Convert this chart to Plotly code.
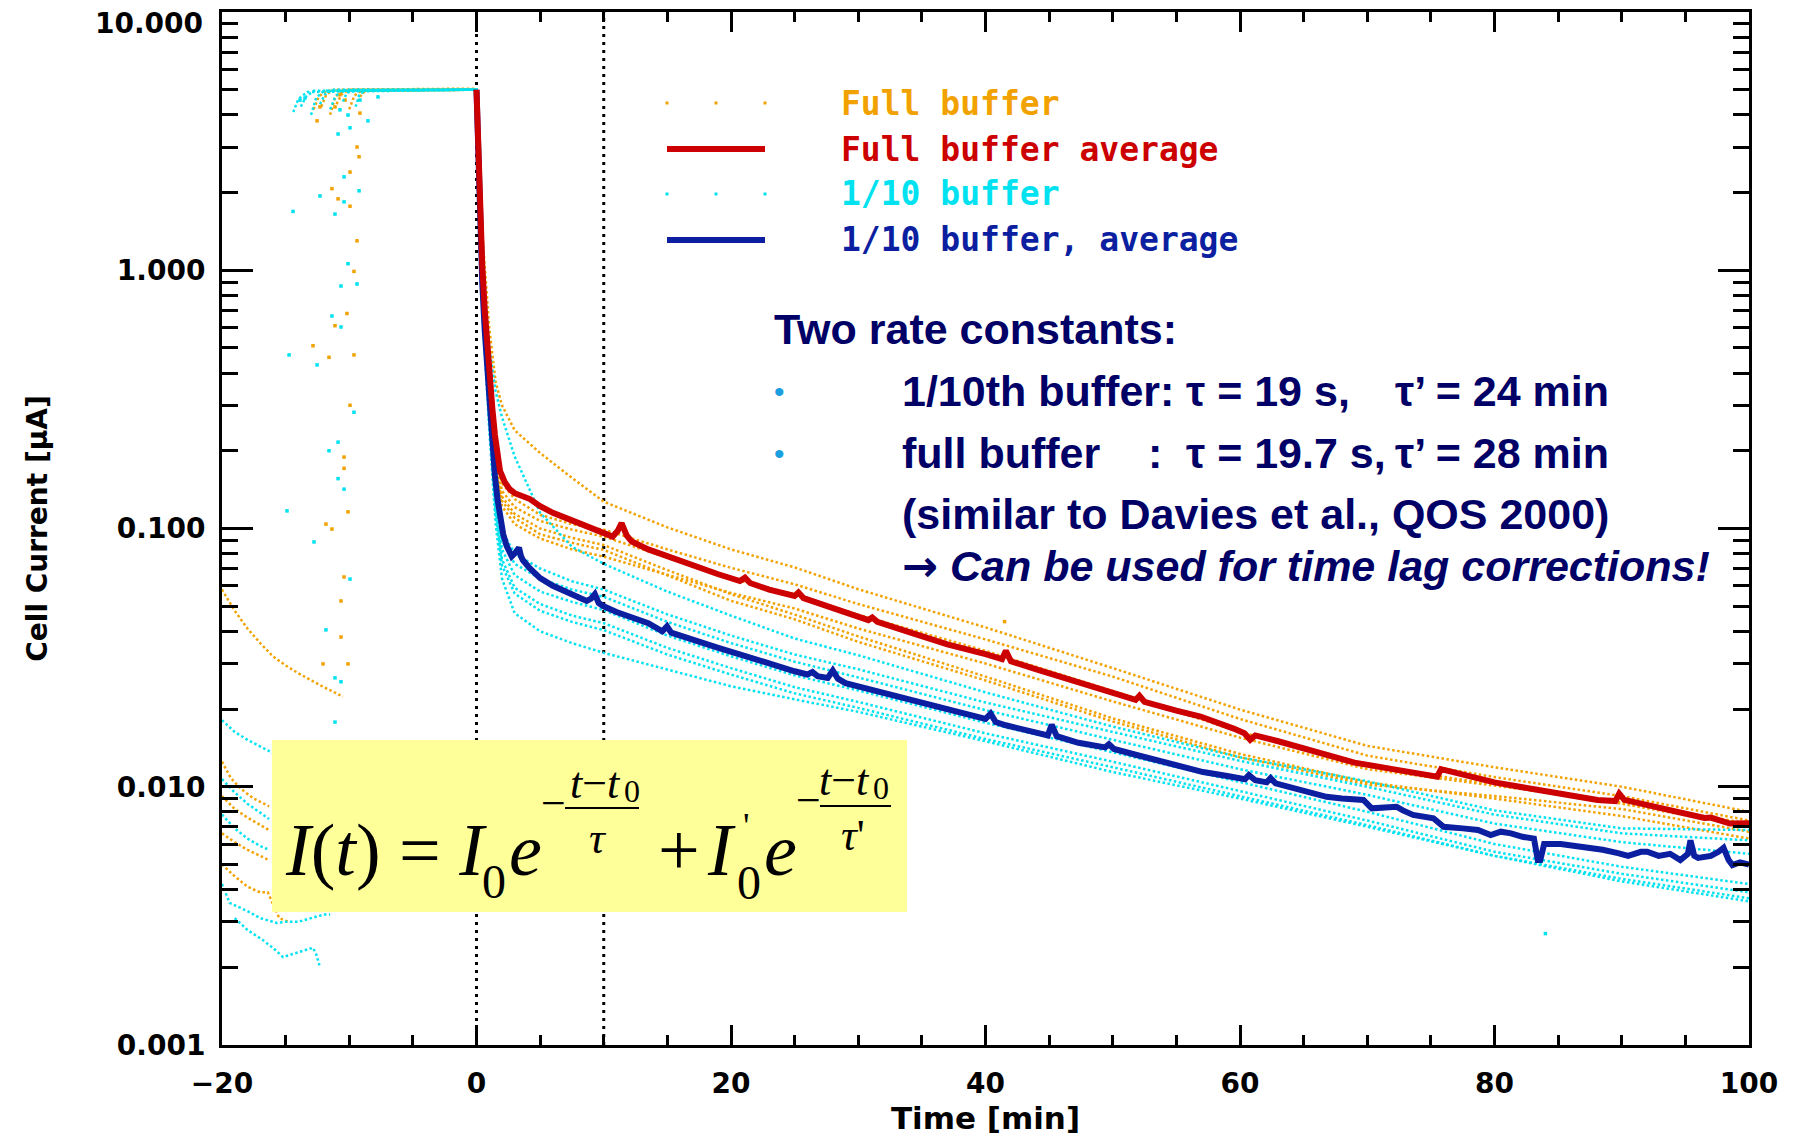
import plotly.graph_objects as go

# ---------------------------------------------------------------- data
# common time grid (min) for the individual runs after t0
T_POST = [0, 0.2, 0.5, 1.0, 1.5, 2.0, 3.0, 5.0, 7.5, 10, 15, 20, 25, 30, 40, 50, 60, 70, 80, 90, 100]

# Full buffer, individual runs (cell current, uA)
full_run_1 = [5.0, 2.6, 1.3, 0.60, 0.37, 0.30, 0.24, 0.196, 0.157, 0.127, 0.101, 0.083, 0.0707, 0.0582, 0.0414, 0.0288, 0.0199, 0.0144, 0.0119, 0.0100, 0.0080]
full_run_2 = [5.0, 2.3, 0.95, 0.37, 0.20, 0.150, 0.130, 0.113, 0.104, 0.099, 0.083, 0.0704, 0.0608, 0.0510, 0.0372, 0.0267, 0.0183, 0.0132, 0.0109, 0.0092, 0.0074]
full_run_3 = [5.0, 2.2, 0.90, 0.35, 0.185, 0.140, 0.121, 0.107, 0.099, 0.093, 0.077, 0.064, 0.0555, 0.0464, 0.0336, 0.0235, 0.0163, 0.0121, 0.0102, 0.0086, 0.0070]
full_run_4 = [5.0, 2.1, 0.85, 0.33, 0.175, 0.133, 0.114, 0.100, 0.092, 0.0863, 0.069, 0.0557, 0.0464, 0.0382, 0.0267, 0.0184, 0.0134, 0.0104, 0.0090, 0.0077, 0.0063]
full_run_5 = [5.0, 2.05, 0.82, 0.32, 0.170, 0.128, 0.110, 0.095, 0.088, 0.0826, 0.066, 0.0525, 0.0445, 0.0364, 0.0258, 0.0179, 0.0130, 0.0102, 0.0092, 0.0082, 0.0067]
full_run_6 = [5.0, 2.0, 0.80, 0.31, 0.165, 0.122, 0.104, 0.0915, 0.083, 0.0778, 0.066, 0.0563, 0.0490, 0.0410, 0.0300, 0.0214, 0.0155, 0.0117, 0.0101, 0.0087, 0.0072]

# Full buffer, plateau before t0
full_pre_1_t = [-12.8, -12.4, -11.8, -0.1]; full_pre_1_i = [4.2, 4.7, 4.95, 5.0]
full_pre_2_t = [-12.2, -11.8, -11.2, -0.1]; full_pre_2_i = [4.3, 4.8, 5.0, 5.05]
full_pre_3_t = [-11.5, -11.1, -10.5, -0.1]; full_pre_3_i = [4.0, 4.7, 4.95, 4.98]
full_pre_4_t = [-11.0, -10.6, -10.0, -0.1]; full_pre_4_i = [4.4, 4.8, 5.0, 5.03]
full_pre_5_t = [-10.0, -9.6, -9.0, -0.1]; full_pre_5_i = [4.2, 4.75, 4.97, 5.0]
full_pre_6_t = [-9.3, -9.0, -8.5, -0.1]; full_pre_6_i = [4.5, 4.85, 5.0, 5.02]

# Full buffer, tails of the previous cycle (left edge)
full_tail_1_t = [-20, -19, -18, -17, -16, -15, -14, -13, -12, -11, -10.5]
full_tail_1_i = [0.058, 0.048, 0.041, 0.036, 0.032, 0.0295, 0.0275, 0.0258, 0.0243, 0.0230, 0.0223]
full_tail_2_t = [-20, -19.3, -18.5, -17.5, -16.3]
full_tail_2_i = [0.0125, 0.0108, 0.0098, 0.0090, 0.0084]
full_tail_3_t = [-20, -19, -18, -17, -16.3]
full_tail_3_i = [0.0092, 0.0082, 0.0076, 0.0071, 0.0068]
full_tail_4_t = [-20, -19, -18, -17, -16.3]
full_tail_4_i = [0.0066, 0.0061, 0.0057, 0.0054, 0.0052]
full_tail_5_t = [-20, -19, -18, -17, -16.4, -16.1, -15.5, -14.8]
full_tail_5_i = [0.0050, 0.0045, 0.0041, 0.0039, 0.0039, 0.0036, 0.0031, 0.0030]

# Full buffer, isolated samples (switch-on transients, outliers)
full_pts_t = [-12.30, -12.53, -11.12, -9.39, -9.23, -9.94, -11.36, -10.88, -9.94, -9.39,
              -9.63, -10.18, -11.12, -12.85, -11.59, -9.63, -9.94, -10.41, -10.41, -10.10,
              -11.83, -11.36, -10.41, -10.65, -10.65, -12.06, -10.10, -10.73, -10.33, -9.16, 41.5]
full_pts_i = [4.29, 3.79, 4.29, 3.0, 2.75, 2.40, 2.07, 1.89, 1.77, 1.30,
              0.99, 0.68, 0.61, 0.51, 0.46, 0.47, 0.30, 0.189, 0.171, 0.116,
              0.104, 0.0995, 0.0649, 0.0524, 0.038, 0.0299, 0.0299, 4.78, 4.56, 4.06, 0.0436]

# 1/10 buffer, individual runs
tenth_run_1 = [5.0, 2.4, 1.1, 0.50, 0.34, 0.27, 0.19, 0.115, 0.085, 0.073, 0.057, 0.046, 0.0375, 0.0323, 0.0232, 0.0171, 0.0130, 0.0105, 0.0081, 0.0069, 0.0068]
tenth_run_2 = [5.0, 2.1, 0.85, 0.32, 0.15, 0.098, 0.080, 0.070, 0.0625, 0.058, 0.0465, 0.0385, 0.0325, 0.0285, 0.0212, 0.0163, 0.0126, 0.0100, 0.0078, 0.0066, 0.0062]
tenth_run_3 = [5.0, 2.0, 0.80, 0.30, 0.14, 0.090, 0.073, 0.064, 0.058, 0.0544, 0.0435, 0.0360, 0.0305, 0.0265, 0.0198, 0.0152, 0.0117, 0.0093, 0.0072, 0.0061, 0.0055]
tenth_run_4 = [5.0, 1.95, 0.76, 0.28, 0.13, 0.083, 0.066, 0.057, 0.052, 0.0483, 0.0385, 0.0320, 0.0270, 0.0236, 0.0177, 0.0136, 0.0104, 0.0080, 0.0060, 0.0049, 0.0042]
tenth_run_5 = [5.0, 1.9, 0.72, 0.27, 0.12, 0.076, 0.059, 0.051, 0.046, 0.0430, 0.0345, 0.0288, 0.0243, 0.0213, 0.0161, 0.0125, 0.0096, 0.0074, 0.0056, 0.0046, 0.0039]
tenth_run_6 = [5.0, 1.85, 0.70, 0.26, 0.115, 0.072, 0.056, 0.048, 0.0435, 0.0404, 0.0325, 0.0272, 0.0230, 0.0202, 0.0153, 0.0119, 0.0092, 0.0071, 0.0054, 0.0044, 0.0037]
tenth_run_7 = [5.0, 1.8, 0.66, 0.24, 0.105, 0.064, 0.047, 0.040, 0.036, 0.033, 0.0285, 0.0245, 0.0218, 0.0195, 0.0150, 0.0114, 0.0090, 0.0070, 0.0054, 0.0043, 0.0036]

tenth_pre_1_t = [-14.4, -14.0, -13.3, -0.1]; tenth_pre_1_i = [4.1, 4.6, 4.9, 5.0]
tenth_pre_2_t = [-13.8, -13.4, -12.8, -0.1]; tenth_pre_2_i = [4.3, 4.7, 4.95, 5.03]
tenth_pre_3_t = [-13.0, -12.6, -12.0, -0.1]; tenth_pre_3_i = [4.0, 4.65, 4.95, 4.98]
tenth_pre_4_t = [-12.3, -11.9, -11.3, -0.1]; tenth_pre_4_i = [4.4, 4.8, 5.0, 5.02]
tenth_pre_5_t = [-11.5, -11.1, -10.6, -0.1]; tenth_pre_5_i = [4.2, 4.7, 4.97, 5.0]
tenth_pre_6_t = [-10.5, -10.2, -9.7, -0.1]; tenth_pre_6_i = [4.5, 4.85, 5.0, 5.03]
tenth_pre_7_t = [-9.5, -9.2, -8.7, -0.1]; tenth_pre_7_i = [4.3, 4.8, 4.98, 5.0]

tenth_tail_1_t = [-20, -19, -18, -17, -16]
tenth_tail_1_i = [0.0181, 0.0163, 0.0152, 0.0143, 0.0135]
tenth_tail_2_t = [-20, -19, -18, -17, -16.3]
tenth_tail_2_i = [0.0107, 0.0095, 0.0086, 0.0079, 0.0075]
tenth_tail_3_t = [-20, -19, -18, -17, -16.3]
tenth_tail_3_i = [0.0078, 0.0069, 0.0063, 0.0059, 0.0057]
tenth_tail_4_t = [-20, -19.4, -18, -17, -16, -15.7, -15, -14, -13, -12, -11.5]
tenth_tail_4_i = [0.0042, 0.00355, 0.0033, 0.0031, 0.0030, 0.00297, 0.0030, 0.0030, 0.0031, 0.0032, 0.0032]
tenth_tail_5_t = [-19, -18, -16.8, -16, -15.2, -13.9, -12.85, -12.6, -12.3]
tenth_tail_5_i = [0.0031, 0.00279, 0.00255, 0.00238, 0.00219, 0.00229, 0.00238, 0.00225, 0.0020]

tenth_pts_t = [-14.42, -12.30, -10.41, -9.23, -11.12, -10.41, -10.88, -9.94, -8.53, -10.10,
               -9.39, -10.65, -11.36, -10.65, -14.73, -12.53, -9.63, -10.88, -11.59, -10.88,
               -10.41, -14.89, -12.77, -9.94, -11.83, -11.12, -10.65, -11.12, -13.87, -13.48,
               -10.73, -10.10, -9.16, -7.74, 84.0]
tenth_pts_i = [1.69, 1.94, 2.30, 2.03, 1.65, 1.84, 3.37, 3.56, 3.79, 1.06,
               0.885, 0.869, 0.665, 0.603, 0.470, 0.430, 0.282, 0.216, 0.200, 0.156,
               0.142, 0.117, 0.0887, 0.0637, 0.0405, 0.0264, 0.0255, 0.0178, 4.56, 4.64,
               4.18, 3.99, 4.56, 4.69, 0.0027]

# Averages
avg_full_t = [0, 0.1, 0.25, 0.45, 0.65, 0.85, 1.05, 1.25, 1.45, 1.65,
              1.85, 2.2, 2.6, 3.0, 3.5, 4.2, 5.0, 6.0, 7.6, 9.0,
              10.7, 11.1, 11.4, 11.8, 12.2, 13.5, 15.0, 17.0, 19.0, 20.7,
              21.1, 21.5, 23.0, 25.0, 25.3, 25.7, 27.5, 29.0, 30.8, 31.1,
              31.5, 34.0, 37.0, 40.0, 41.3, 41.6, 42.0, 44.0, 47.0, 50.0,
              51.8, 52.1, 52.5, 55.0, 56.9, 59.5, 60.35, 60.8, 61.2, 63.0,
              66.0, 69.0, 72.0, 75.5, 75.8, 77.0, 80.0, 83.0, 86.0, 88.1,
              89.5, 89.8, 90.2, 92.0, 94.0, 96.5, 97.0, 98.5, 100]
avg_full_i = [5.0, 3.3, 1.8, 1.05, 0.70, 0.49, 0.37, 0.29, 0.23, 0.19,
              0.167, 0.152, 0.142, 0.137, 0.134, 0.130, 0.122, 0.115, 0.107, 0.100,
              0.093, 0.098, 0.105, 0.094, 0.089, 0.083, 0.078, 0.072, 0.0665, 0.0626,
              0.0645, 0.0615, 0.058, 0.0548, 0.0565, 0.0538, 0.050, 0.047, 0.0442, 0.0452,
              0.0435, 0.0397, 0.0356, 0.0326, 0.0312, 0.0336, 0.0306, 0.0285, 0.0256, 0.0230,
              0.0217, 0.0225, 0.0213, 0.0197, 0.0187, 0.0168, 0.0161, 0.0152, 0.0158, 0.0150,
              0.0136, 0.0124, 0.0117, 0.01094, 0.0117, 0.0113, 0.0104, 0.0098, 0.0093, 0.00889,
              0.0088, 0.0094, 0.0089, 0.0085, 0.0081, 0.00757, 0.0076, 0.0072, 0.00723]

avg_tenth_t = [0, 0.1, 0.25, 0.45, 0.65, 0.85, 1.05, 1.25, 1.45, 1.65,
               1.85, 2.1, 2.37, 2.77, 3.05, 3.34, 3.5, 3.65, 4.2, 5.0,
               6.0, 7.6, 8.66, 9.0, 9.3, 9.6, 9.95, 11.0, 12.3, 13.5,
               14.6, 14.97, 15.3, 17.0, 19.0, 21.0, 23.2, 25.0, 26.0, 26.4,
               26.8, 27.6, 28.0, 28.4, 29.0, 31.0, 33.0, 35.0, 37.0, 39.0,
               40.0, 40.4, 40.8, 41.6, 43.0, 44.9, 45.2, 45.6, 47.3, 49.4,
               49.7, 50.1, 51.8, 52.9, 55.0, 57.1, 59.0, 60.4, 60.7, 61.2,
               62.1, 62.4, 62.8, 64.5, 66.8, 68.0, 69.7, 70.35, 71.2, 72.3,
               72.8, 73.6, 75.2, 76.0, 77.5, 78.7, 79.7, 80.5, 81.3, 82.2,
               83.1, 83.4, 83.6, 83.9, 85.2, 86.5, 87.1, 88.5, 89.7, 90.5,
               91.5, 92.0, 92.9, 93.8, 94.6, 95.2, 95.4, 95.7, 96.0, 97.0,
               97.6, 98.0, 98.4, 98.7, 99.3, 100]
avg_tenth_i = [5.0, 3.1, 1.6, 0.9, 0.58, 0.40, 0.28, 0.20, 0.160, 0.130,
               0.111, 0.095, 0.0857, 0.078, 0.0805, 0.0843, 0.078, 0.0753, 0.070, 0.0642,
               0.060, 0.055, 0.0524, 0.0535, 0.0557, 0.0515, 0.0501, 0.0475, 0.0448, 0.043,
               0.0400, 0.0418, 0.0395, 0.0370, 0.0345, 0.0322, 0.0296, 0.0280, 0.0272, 0.0278,
               0.0268, 0.0264, 0.0282, 0.0262, 0.0252, 0.0238, 0.0225, 0.0213, 0.0202, 0.0190,
               0.0183, 0.0192, 0.0178, 0.0173, 0.0166, 0.0158, 0.0174, 0.0157, 0.0148, 0.0142,
               0.0146, 0.0140, 0.0133, 0.0129, 0.0121, 0.0114, 0.0110, 0.0107, 0.0111, 0.0106,
               0.0104, 0.0108, 0.0103, 0.0098, 0.00914, 0.0090, 0.00889, 0.00825, 0.0083, 0.00837,
               0.0081, 0.00778, 0.00755, 0.0070, 0.0069, 0.0068, 0.0065, 0.0067, 0.0066, 0.0064,
               0.0063, 0.0052, 0.0052, 0.0060, 0.0060, 0.0059, 0.0058, 0.0057, 0.00553, 0.0054,
               0.0056, 0.0056, 0.0054, 0.0055, 0.0052, 0.0055, 0.0062, 0.0054, 0.0053, 0.0054,
               0.0056, 0.0058, 0.0052, 0.00497, 0.0051, 0.0050]

X_TICKS = [-20, 0, 20, 40, 60, 80, 100]
Y_TICKS = [0.001, 0.01, 0.1, 1, 10]
Y_TICKTEXT = ["0.001", "0.010", "0.100", "1.000", "10.000"]
MARKER_TIMES = [0, 10]

LEGEND_LABELS = ["Full buffer", "Full buffer average", "1/10 buffer", "1/10 buffer, average"]

# ---------------------------------------------------------------- style
ORANGE = "#F2A200"
CYAN = "#00E2F0"
RED = "#CC0000"
BLUE = "#0B1FA0"
NAVY = "#000066"
BULLET = "#1C9FE0"

W, H = 1794, 1139
ML, MR, MT, MB = 222, 45, 12, 94
PW = W - ML - MR
PH = H - MT - MB


def px(X):
    return (X - ML) / PW


def py(Y):
    return (H - MB - Y) / PH


def chain(pairs):
    xs, ys = [], []
    for tx, iy in pairs:
        if xs:
            xs.append(None)
            ys.append(None)
        xs += list(tx)
        ys += list(iy)
    return xs, ys


full_x, full_y = chain([
    (full_pre_1_t + T_POST, full_pre_1_i + full_run_1),
    (full_pre_2_t + T_POST, full_pre_2_i + full_run_2),
    (full_pre_3_t + T_POST, full_pre_3_i + full_run_3),
    (full_pre_4_t + T_POST, full_pre_4_i + full_run_4),
    (full_pre_5_t + T_POST, full_pre_5_i + full_run_5),
    (full_pre_6_t + T_POST, full_pre_6_i + full_run_6),
    (full_tail_1_t, full_tail_1_i), (full_tail_2_t, full_tail_2_i),
    (full_tail_3_t, full_tail_3_i), (full_tail_4_t, full_tail_4_i),
    (full_tail_5_t, full_tail_5_i),
])
tenth_x, tenth_y = chain([
    (tenth_pre_1_t + T_POST, tenth_pre_1_i + tenth_run_1),
    (tenth_pre_2_t + T_POST, tenth_pre_2_i + tenth_run_2),
    (tenth_pre_3_t + T_POST, tenth_pre_3_i + tenth_run_3),
    (tenth_pre_4_t + T_POST, tenth_pre_4_i + tenth_run_4),
    (tenth_pre_5_t + T_POST, tenth_pre_5_i + tenth_run_5),
    (tenth_pre_6_t + T_POST, tenth_pre_6_i + tenth_run_6),
    (tenth_pre_7_t + T_POST, tenth_pre_7_i + tenth_run_7),
    (tenth_tail_1_t, tenth_tail_1_i), (tenth_tail_2_t, tenth_tail_2_i),
    (tenth_tail_3_t, tenth_tail_3_i), (tenth_tail_4_t, tenth_tail_4_i),
    (tenth_tail_5_t, tenth_tail_5_i),
])

DOT = "2.5px,2.5px"

fig = go.Figure()
fig.add_trace(go.Scatter(x=full_x, y=full_y, mode="lines", name=LEGEND_LABELS[0],
                         line=dict(color=ORANGE, width=2.5, dash=DOT), connectgaps=False))
fig.add_trace(go.Scatter(x=full_pts_t, y=full_pts_i, mode="markers", name=LEGEND_LABELS[0],
                         marker=dict(color=ORANGE, size=3.5, symbol="square", line=dict(width=0))))
fig.add_trace(go.Scatter(x=tenth_x, y=tenth_y, mode="lines", name=LEGEND_LABELS[2],
                         line=dict(color=CYAN, width=2.5, dash=DOT), connectgaps=False))
fig.add_trace(go.Scatter(x=tenth_pts_t, y=tenth_pts_i, mode="markers", name=LEGEND_LABELS[2],
                         marker=dict(color=CYAN, size=3.5, symbol="square", line=dict(width=0))))
fig.add_trace(go.Scatter(x=avg_tenth_t, y=avg_tenth_i, mode="lines", name=LEGEND_LABELS[3],
                         line=dict(color=BLUE, width=6)))
fig.add_trace(go.Scatter(x=avg_full_t, y=avg_full_i, mode="lines", name=LEGEND_LABELS[1],
                         line=dict(color=RED, width=6)))

shapes = []
for tm in MARKER_TIMES:
    shapes.append(dict(type="line", xref="x", yref="paper", x0=tm, x1=tm, y0=0, y1=1,
                       line=dict(color="black", width=3, dash="3px,5px"), layer="below"))

# formula box
shapes.append(dict(type="rect", xref="paper", yref="paper", x0=px(272), x1=px(907),
                   y0=py(912), y1=py(740), fillcolor="#FFFF99", line=dict(width=0), layer="above"))
# fraction bars
shapes.append(dict(type="line", xref="paper", yref="paper", x0=px(565), x1=px(639),
                   y0=py(808), y1=py(808), line=dict(color="black", width=2), layer="above"))
shapes.append(dict(type="line", xref="paper", yref="paper", x0=px(820), x1=px(891),
                   y0=py(806), y1=py(806), line=dict(color="black", width=2), layer="above"))

# legend samples
LEG_ROWS = [103, 149, 194, 240]
for Xd in (667, 716, 765):
    for Yr, col in ((LEG_ROWS[0], ORANGE), (LEG_ROWS[2], CYAN)):
        shapes.append(dict(type="rect", xref="paper", yref="paper",
                           x0=px(Xd - 1.5), x1=px(Xd + 1.5), y0=py(Yr + 1.5), y1=py(Yr - 1.5),
                           fillcolor=col, line=dict(width=0), layer="above"))
shapes.append(dict(type="line", xref="paper", yref="paper", x0=px(667), x1=px(765),
                   y0=py(LEG_ROWS[1]), y1=py(LEG_ROWS[1]), line=dict(color=RED, width=6), layer="above"))
shapes.append(dict(type="line", xref="paper", yref="paper", x0=px(667), x1=px(765),
                   y0=py(LEG_ROWS[3]), y1=py(LEG_ROWS[3]), line=dict(color=BLUE, width=6), layer="above"))

ann = []
LEG_FONT = "DejaVu Sans Mono"
for lab, Yr, col in zip(LEGEND_LABELS, LEG_ROWS, (ORANGE, RED, CYAN, BLUE)):
    ann.append(dict(text=lab, x=px(839), y=py(Yr), xanchor="left", yanchor="middle",
                    font=dict(family=LEG_FONT, size=33, color=col, weight="bold")))

TXT = dict(family="Liberation Sans, Arial, sans-serif", size=43, color=NAVY, weight="bold")


def txt(s, X, Y, anchor="left", font=None):
    ann.append(dict(text=s, x=px(X), y=py(Y), xanchor=anchor, yanchor="middle",
                    font=font or TXT))


txt("Two rate constants:", 772, 329)
txt("•", 779, 391, "center", dict(family="Liberation Sans", size=30, color=BULLET))
txt("•", 779, 453, "center", dict(family="Liberation Sans", size=30, color=BULLET))
txt("1/10th buffer:", 900, 391)
txt("τ = 19 s,", 1184, 391)
txt("τ’ = 24 min", 1393, 391)
txt("full buffer", 900, 453)
txt(":", 1146, 453)
txt("τ = 19.7 s,", 1184, 453)
txt("τ’ = 28 min", 1393, 453)
txt("(similar to Davies et al., QOS 2000)", 900, 514)
txt("<span style='font-family:DejaVu Sans'>→</span> <i>Can be used for time lag corrections!</i>", 900, 566)

# y tick label at the top edge (kept inside the page as in the original)
txt("10.000", 205, 23, "right", dict(family="DejaVu Sans", size=28, color="black", weight="bold"))

# formula I(t) = I0 exp(-(t-t0)/tau) + I0' exp(-(t-t0)/tau')
SER = "Liberation Serif, Times New Roman, serif"
F74 = dict(family=SER, size=74, color="black")
F48 = dict(family=SER, size=48, color="black")
F44 = dict(family=SER, size=44, color="black")
F32 = dict(family=SER, size=32, color="black")
txt("<i>I</i>(<i>t</i>) = <i>I</i>", 283, 850, "left", F74)
txt("0", 494, 881, "center", F48)
txt("<i>e</i>", 507, 850, "left", F74)
txt("−", 553, 803, "center", F44)
txt("<i>t</i>−<i>t</i>", 623, 783, "right", F44)
txt("0", 632, 791, "center", F32)
txt("<i>τ</i>", 598, 838, "center", F44)
txt("+", 679, 850, "center", F74)
txt("<i>I</i>", 705, 850, "left", F74)
txt("'", 746, 826, "center", dict(family=SER, size=36, color="black"))
txt("0", 749, 882, "center", F48)
txt("<i>e</i>", 762, 850, "left", F74)
txt("−", 808, 800, "center", F44)
txt("<i>t</i>−<i>t</i>", 872, 780, "right", F44)
txt("0", 881, 788, "center", F32)
txt("<i>τ</i>'", 853, 835, "center", F44)

TICKFONT = dict(family="DejaVu Sans", size=28, color="black", weight="bold")
TITLEFONT = dict(family="DejaVu Sans", size=31, color="black", weight="bold")

minor_y = [k * 10.0 ** e for e in range(-3, 1) for k in range(2, 10)]

fig.update_layout(
    width=W, height=H, autosize=False,
    margin=dict(l=ML, r=MR, t=MT, b=MB, pad=0, autoexpand=False),
    paper_bgcolor="white", plot_bgcolor="white",
    showlegend=False,
    font=dict(family="DejaVu Sans", color="black"),
    xaxis=dict(range=[-20, 100], tickmode="array", tickvals=X_TICKS, automargin=False,
               ticks="inside", ticklen=20, tickwidth=3, tickcolor="black",
               showline=True, linewidth=3, linecolor="black", mirror="ticks",
               showgrid=False, zeroline=False, tickfont=TICKFONT, ticklabelstandoff=11,
               minor=dict(ticks="inside", ticklen=10, tickwidth=3, tickcolor="black",
                          tick0=0, dtick=5, showgrid=False),
               title=dict(text="Time [min]", font=TITLEFONT, standoff=8)),
    yaxis=dict(type="log", range=[-3, 1], tickmode="array", tickvals=Y_TICKS[:-1],
               ticktext=Y_TICKTEXT[:-1], automargin=False,
               ticks="inside", ticklen=31, tickwidth=3, tickcolor="black",
               showline=True, linewidth=3, linecolor="black", mirror="ticks",
               showgrid=False, zeroline=False, tickfont=TICKFONT, ticklabelstandoff=8,
               minor=dict(ticks="inside", ticklen=16, tickwidth=3, tickcolor="black",
                          tickmode="array", tickvals=minor_y + [10], showgrid=False),
               title=dict(text="Cell Current [μA]", font=dict(family="DejaVu Sans", size=28,
                                                              color="black", weight="bold"),
                          standoff=62)),
    shapes=shapes,
    annotations=[dict(a, xref="paper", yref="paper", showarrow=False) for a in ann],
)

fig.write_html("out.html", config={"displayModeBar": False})
